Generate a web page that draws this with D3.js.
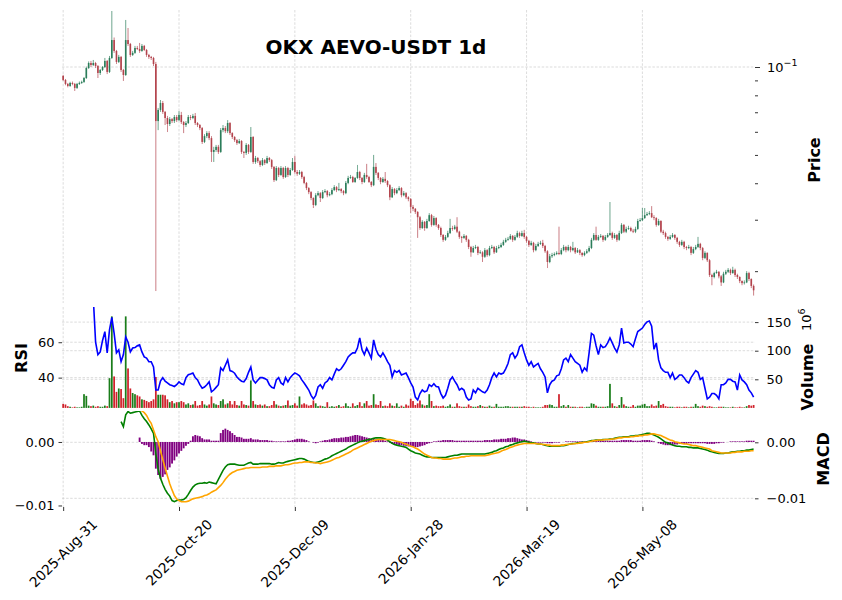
<!DOCTYPE html>
<html>
<head>
<meta charset="utf-8">
<script src="https://cdnjs.cloudflare.com/ajax/libs/d3/7.8.5/d3.min.js"></script>
<style>
    body { margin: 0; background: #fff; }
    svg { display: block; font-family: 'DejaVu Sans', sans-serif; }
    .gl { stroke: #c4c4c4; stroke-width: 0.6; stroke-dasharray: 2.5, 1.6; }
    .axis text { font-size: 13px; fill: #000; }
    .axis line { stroke: #000; stroke-width: 0.8; }
    .axis path { display: none; }
    .lab { font-weight: bold; font-size: 16px; }
</style>
</head>
<body>
<svg id="chart" width="842" height="600"></svg>
<script>
///////////// DATA
var title = 'OKX AEVO-USDT 1d';
var tickIdx = [0, 50, 100, 150, 200, 250];
var tickLabels = ['2025-Aug-31', '2025-Oct-20', '2025-Dec-09', '2026-Jan-28', '2026-Mar-19', '2026-May-08'];

var opens = [0.0932,0.0903,0.0875,0.0861,0.0882,0.0875,0.0848,0.0875,0.0882,0.0889,
0.0917,0.0992,0.1032,0.1016,0.1032,0.1008,0.0954,0.0977,0.1000,0.1049,
0.0962,0.1074,0.1237,0.1135,0.1041,0.1083,0.0977,0.0939,0.1237,0.1199,
0.1100,0.1118,0.1162,0.1153,0.1135,0.1181,0.1144,0.1100,0.1083,0.1074,
0.1024,0.0653,0.0713,0.0753,0.0702,0.0669,0.0638,0.0663,0.0653,0.0674,
0.0658,0.0685,0.0648,0.0633,0.0643,0.0674,0.0669,0.0680,0.0643,0.0633,
0.0618,0.0554,0.0580,0.0594,0.0571,0.0512,0.0520,0.0533,0.0512,0.0608,
0.0618,0.0603,0.0643,0.0594,0.0576,0.0562,0.0549,0.0558,0.0512,0.0508,
0.0541,0.0512,0.0576,0.0473,0.0488,0.0476,0.0462,0.0480,0.0469,0.0488,
0.0480,0.0455,0.0410,0.0451,0.0427,0.0451,0.0420,0.0451,0.0427,0.0444,
0.0473,0.0437,0.0431,0.0437,0.0420,0.0401,0.0385,0.0373,0.0356,0.0337,
0.0364,0.0370,0.0356,0.0373,0.0376,0.0364,0.0367,0.0379,0.0388,0.0379,
0.0382,0.0376,0.0370,0.0401,0.0417,0.0420,0.0404,0.0417,0.0437,0.0417,
0.0404,0.0427,0.0420,0.0404,0.0394,0.0455,0.0434,0.0417,0.0404,0.0414,
0.0407,0.0394,0.0358,0.0382,0.0370,0.0379,0.0385,0.0364,0.0370,0.0358,
0.0353,0.0332,0.0327,0.0319,0.0306,0.0281,0.0295,0.0281,0.0297,0.0311,
0.0288,0.0304,0.0288,0.0281,0.0266,0.0256,0.0262,0.0270,0.0281,0.0279,
0.0284,0.0273,0.0262,0.0260,0.0264,0.0256,0.0242,0.0232,0.0240,0.0242,
0.0231,0.0232,0.0224,0.0236,0.0227,0.0240,0.0242,0.0232,0.0240,0.0242,
0.0246,0.0252,0.0256,0.0258,0.0264,0.0256,0.0262,0.0270,0.0264,0.0270,
0.0262,0.0254,0.0246,0.0250,0.0236,0.0244,0.0248,0.0250,0.0244,0.0234,
0.0215,0.0225,0.0227,0.0229,0.0231,0.0229,0.0236,0.0242,0.0236,0.0242,
0.0236,0.0240,0.0232,0.0236,0.0231,0.0227,0.0231,0.0234,0.0240,0.0256,
0.0266,0.0256,0.0262,0.0264,0.0256,0.0262,0.0266,0.0270,0.0260,0.0266,
0.0256,0.0270,0.0288,0.0273,0.0279,0.0281,0.0275,0.0273,0.0279,0.0297,
0.0299,0.0304,0.0311,0.0314,0.0316,0.0306,0.0304,0.0288,0.0297,0.0273,
0.0270,0.0262,0.0258,0.0262,0.0266,0.0260,0.0252,0.0246,0.0252,0.0242,
0.0240,0.0242,0.0231,0.0238,0.0242,0.0248,0.0240,0.0222,0.0231,0.0218,
0.0194,0.0191,0.0197,0.0199,0.0192,0.0183,0.0196,0.0199,0.0202,0.0197,
0.0202,0.0194,0.0191,0.0185,0.0182,0.0183,0.0197,0.0188,0.0178];

var highs = [0.0940,0.0910,0.0882,0.0890,0.0892,0.0882,0.0882,0.0892,0.0898,0.0924,
0.1003,0.1045,0.1049,0.1057,0.1041,0.1016,0.0985,0.1008,0.1074,0.1057,
0.1091,0.1555,0.1262,0.1144,0.1100,0.1091,0.0985,0.1449,0.1360,0.1209,
0.1135,0.1181,0.1181,0.1209,0.1199,0.1190,0.1153,0.1109,0.1091,0.1083,
0.1041,0.0724,0.0771,0.0765,0.0707,0.0680,0.0674,0.0669,0.0685,0.0685,
0.0707,0.0702,0.0653,0.0653,0.0685,0.0685,0.0691,0.0696,0.0648,0.0638,
0.0623,0.0589,0.0603,0.0603,0.0580,0.0533,0.0541,0.0541,0.0618,0.0633,
0.0628,0.0658,0.0648,0.0598,0.0580,0.0567,0.0567,0.0562,0.0516,0.0549,
0.0545,0.0623,0.0580,0.0496,0.0492,0.0480,0.0488,0.0484,0.0496,0.0492,
0.0484,0.0458,0.0458,0.0455,0.0458,0.0455,0.0458,0.0455,0.0451,0.0488,
0.0496,0.0444,0.0444,0.0441,0.0424,0.0404,0.0388,0.0376,0.0358,0.0370,
0.0376,0.0373,0.0379,0.0382,0.0379,0.0373,0.0385,0.0394,0.0391,0.0401,
0.0385,0.0379,0.0407,0.0424,0.0427,0.0424,0.0420,0.0462,0.0441,0.0420,
0.0434,0.0466,0.0424,0.0407,0.0500,0.0469,0.0437,0.0420,0.0420,0.0437,
0.0410,0.0397,0.0388,0.0385,0.0385,0.0391,0.0388,0.0376,0.0373,0.0361,
0.0356,0.0337,0.0329,0.0321,0.0309,0.0299,0.0297,0.0302,0.0316,0.0314,
0.0309,0.0306,0.0290,0.0284,0.0268,0.0266,0.0275,0.0302,0.0286,0.0288,
0.0306,0.0275,0.0264,0.0268,0.0266,0.0258,0.0244,0.0244,0.0246,0.0244,
0.0236,0.0234,0.0240,0.0238,0.0244,0.0246,0.0244,0.0244,0.0246,0.0250,
0.0256,0.0260,0.0262,0.0268,0.0266,0.0266,0.0275,0.0273,0.0275,0.0277,
0.0264,0.0256,0.0254,0.0252,0.0248,0.0252,0.0254,0.0256,0.0246,0.0236,
0.0229,0.0231,0.0232,0.0234,0.0284,0.0240,0.0246,0.0244,0.0246,0.0244,
0.0252,0.0242,0.0240,0.0238,0.0232,0.0234,0.0238,0.0244,0.0260,0.0270,
0.0284,0.0266,0.0268,0.0266,0.0266,0.0270,0.0345,0.0273,0.0270,0.0268,
0.0275,0.0292,0.0290,0.0284,0.0286,0.0284,0.0279,0.0284,0.0302,0.0304,
0.0329,0.0329,0.0319,0.0321,0.0334,0.0311,0.0306,0.0302,0.0299,0.0277,
0.0273,0.0264,0.0266,0.0270,0.0268,0.0262,0.0254,0.0256,0.0254,0.0244,
0.0246,0.0244,0.0242,0.0246,0.0262,0.0250,0.0242,0.0234,0.0232,0.0220,
0.0196,0.0199,0.0202,0.0200,0.0194,0.0199,0.0202,0.0205,0.0204,0.0207,
0.0204,0.0196,0.0192,0.0186,0.0186,0.0200,0.0199,0.0189,0.0180];

var lows = [0.0896,0.0866,0.0852,0.0855,0.0866,0.0828,0.0841,0.0868,0.0875,0.0882,
0.0910,0.0985,0.1000,0.1008,0.0992,0.0917,0.0939,0.0969,0.0992,0.0946,
0.0954,0.1066,0.1118,0.1024,0.1032,0.0962,0.0896,0.0932,0.1181,0.1083,
0.1091,0.1109,0.1144,0.1118,0.1127,0.1135,0.1083,0.1066,0.1057,0.1008,
0.0171,0.0608,0.0702,0.0691,0.0633,0.0599,0.0628,0.0643,0.0643,0.0648,
0.0653,0.0638,0.0594,0.0623,0.0638,0.0658,0.0663,0.0633,0.0623,0.0608,
0.0545,0.0549,0.0571,0.0562,0.0473,0.0473,0.0512,0.0504,0.0508,0.0598,
0.0594,0.0594,0.0585,0.0567,0.0554,0.0541,0.0545,0.0504,0.0488,0.0500,
0.0504,0.0508,0.0466,0.0466,0.0469,0.0455,0.0458,0.0462,0.0466,0.0473,
0.0448,0.0404,0.0407,0.0420,0.0424,0.0414,0.0417,0.0420,0.0424,0.0441,
0.0431,0.0424,0.0427,0.0414,0.0397,0.0379,0.0367,0.0350,0.0329,0.0334,
0.0361,0.0345,0.0353,0.0370,0.0358,0.0361,0.0364,0.0376,0.0373,0.0376,
0.0370,0.0364,0.0367,0.0397,0.0414,0.0401,0.0401,0.0414,0.0410,0.0397,
0.0401,0.0414,0.0401,0.0388,0.0391,0.0427,0.0410,0.0397,0.0401,0.0401,
0.0388,0.0350,0.0356,0.0364,0.0367,0.0376,0.0358,0.0361,0.0353,0.0347,
0.0316,0.0321,0.0314,0.0260,0.0277,0.0279,0.0275,0.0279,0.0295,0.0284,
0.0286,0.0284,0.0277,0.0262,0.0252,0.0254,0.0260,0.0268,0.0275,0.0277,
0.0270,0.0258,0.0250,0.0258,0.0252,0.0238,0.0224,0.0231,0.0238,0.0227,
0.0229,0.0215,0.0222,0.0224,0.0225,0.0238,0.0229,0.0231,0.0238,0.0240,
0.0244,0.0250,0.0254,0.0256,0.0252,0.0254,0.0260,0.0260,0.0262,0.0258,
0.0250,0.0242,0.0244,0.0232,0.0234,0.0242,0.0246,0.0240,0.0231,0.0205,
0.0213,0.0222,0.0225,0.0227,0.0227,0.0227,0.0234,0.0232,0.0234,0.0232,
0.0234,0.0229,0.0231,0.0227,0.0224,0.0225,0.0229,0.0232,0.0238,0.0254,
0.0254,0.0254,0.0260,0.0252,0.0254,0.0260,0.0264,0.0256,0.0258,0.0252,
0.0254,0.0268,0.0270,0.0270,0.0277,0.0273,0.0270,0.0270,0.0277,0.0295,
0.0297,0.0302,0.0309,0.0311,0.0304,0.0299,0.0284,0.0286,0.0270,0.0266,
0.0258,0.0254,0.0256,0.0260,0.0256,0.0248,0.0242,0.0244,0.0238,0.0236,
0.0238,0.0227,0.0229,0.0236,0.0240,0.0236,0.0218,0.0220,0.0215,0.0191,
0.0179,0.0189,0.0196,0.0189,0.0178,0.0182,0.0194,0.0197,0.0194,0.0196,
0.0191,0.0188,0.0182,0.0179,0.0180,0.0182,0.0185,0.0175,0.0165];

var closes = [0.0903,0.0875,0.0861,0.0882,0.0875,0.0848,0.0875,0.0882,0.0889,0.0917,
0.0992,0.1032,0.1016,0.1032,0.1008,0.0954,0.0977,0.1000,0.1049,0.0962,
0.1074,0.1237,0.1135,0.1041,0.1083,0.0977,0.0939,0.1237,0.1199,0.1100,
0.1118,0.1162,0.1153,0.1135,0.1181,0.1144,0.1100,0.1083,0.1074,0.1024,
0.0653,0.0713,0.0753,0.0702,0.0669,0.0638,0.0663,0.0653,0.0674,0.0658,
0.0685,0.0648,0.0633,0.0643,0.0674,0.0669,0.0680,0.0643,0.0633,0.0618,
0.0554,0.0580,0.0594,0.0571,0.0512,0.0520,0.0533,0.0512,0.0608,0.0618,
0.0603,0.0643,0.0594,0.0576,0.0562,0.0549,0.0558,0.0512,0.0508,0.0541,
0.0512,0.0576,0.0473,0.0488,0.0476,0.0462,0.0480,0.0469,0.0488,0.0480,
0.0455,0.0410,0.0451,0.0427,0.0451,0.0420,0.0451,0.0427,0.0444,0.0473,
0.0437,0.0431,0.0437,0.0420,0.0401,0.0385,0.0373,0.0356,0.0337,0.0364,
0.0370,0.0356,0.0373,0.0376,0.0364,0.0367,0.0379,0.0388,0.0379,0.0382,
0.0376,0.0370,0.0401,0.0417,0.0420,0.0404,0.0417,0.0437,0.0417,0.0404,
0.0427,0.0420,0.0404,0.0394,0.0455,0.0434,0.0417,0.0404,0.0414,0.0407,
0.0394,0.0358,0.0382,0.0370,0.0379,0.0385,0.0364,0.0370,0.0358,0.0353,
0.0332,0.0327,0.0319,0.0306,0.0281,0.0295,0.0281,0.0297,0.0311,0.0288,
0.0304,0.0288,0.0281,0.0266,0.0256,0.0262,0.0270,0.0281,0.0279,0.0284,
0.0273,0.0262,0.0260,0.0264,0.0256,0.0242,0.0232,0.0240,0.0242,0.0231,
0.0232,0.0224,0.0236,0.0227,0.0240,0.0242,0.0232,0.0240,0.0242,0.0246,
0.0252,0.0256,0.0258,0.0264,0.0256,0.0262,0.0270,0.0264,0.0270,0.0262,
0.0254,0.0246,0.0250,0.0236,0.0244,0.0248,0.0250,0.0244,0.0234,0.0215,
0.0225,0.0227,0.0229,0.0231,0.0229,0.0236,0.0242,0.0236,0.0242,0.0236,
0.0240,0.0232,0.0236,0.0231,0.0227,0.0231,0.0234,0.0240,0.0256,0.0266,
0.0256,0.0262,0.0264,0.0256,0.0262,0.0266,0.0270,0.0260,0.0266,0.0256,
0.0270,0.0288,0.0273,0.0279,0.0281,0.0275,0.0273,0.0279,0.0297,0.0299,
0.0304,0.0311,0.0314,0.0316,0.0306,0.0304,0.0288,0.0297,0.0273,0.0270,
0.0262,0.0258,0.0262,0.0266,0.0260,0.0252,0.0246,0.0252,0.0242,0.0240,
0.0242,0.0231,0.0238,0.0242,0.0248,0.0240,0.0222,0.0231,0.0218,0.0194,
0.0191,0.0197,0.0199,0.0192,0.0183,0.0196,0.0199,0.0202,0.0197,0.0202,
0.0194,0.0191,0.0185,0.0182,0.0183,0.0197,0.0188,0.0178,0.0172];

// volume, in millions
var volumeM = [7,6,3,2,1,2,1,1,2,24,
21,4,3,4,2,3,2,2,4,3,
52,160,55,28,34,33,17,160,69,34,
26,24,22,20,15,14,12,10,12,15,
54,23,23,23,22,15,10,12,8,10,
10,12,10,6,8,5,6,12,4,5,
12,6,4,6,20,8,6,5,12,15,
6,8,12,6,12,5,4,12,6,5,
4,48,12,6,5,6,4,6,3,3,
5,12,6,4,3,4,5,13,4,5,
8,4,20,6,8,6,4,5,13,8,
3,4,3,2,10,2,3,2,3,5,
2,3,8,3,2,8,3,5,10,3,
8,12,4,5,24,6,5,12,3,4,
3,8,4,3,8,2,4,2,6,4,
16,12,5,8,13,6,4,5,24,12,
3,4,3,3,4,2,3,6,2,2,
8,3,2,2,2,6,3,2,2,3,
5,3,2,2,4,2,2,7,2,2,
2,3,3,2,2,2,2,2,2,3,
2,2,1,2,1,1,1,2,5,5,
6,5,2,2,24,3,5,2,5,2,
2,2,1,2,2,1,2,2,8,7,
4,2,2,2,2,3,42,8,3,2,
5,19,6,3,2,2,5,2,4,4,
6,7,3,3,6,3,4,12,5,7,
3,2,2,2,1,2,2,1,2,2,
1,2,2,7,3,2,4,3,2,3,
2,1,1,2,2,2,1,1,1,2,
1,1,2,1,1,3,5,4,5];

// RSI, first value belongs to candle 13
var rsiStart = 13;
var rsi = [85,60,53,54.5,61,66,54,
67,74,65,54,55.7,49,53,63,60,54.5,
56.7,57,58,58.5,54.5,51.7,51,49,49,46,
33,33,38,40,38,37,36,35.5,35,36,
37.6,36.5,36,40,41.6,42,42.6,40,38.7,36,
34,34.7,36,37.6,32,33,34.5,36,45.5,44,
47,50,44,43.5,42.5,40.4,39,38,37.6,39.5,
43,46,38.7,37,38.5,40,40,39.5,38.7,36,
34.5,34,38.7,40,37,36,40,37.6,40,41.5,
42.6,42,41,38.7,37,35,33,30,28,30,
34.7,36,34,37,38,40,38.7,42,45,44,
45,47,49,51.7,53,54,54,56.7,62.4,55.7,
53,56.7,54,51,61.3,56,53,51.7,54,51.7,
49,47,40.4,44,43,44,41.5,42,42.6,40,
37,34.7,29,27.4,31,33,32,32.5,36,35,
36.5,35,34.7,31,28.5,30,34,38.7,40.4,38,
36,33,34,33,29,27.4,28,33,31.4,34,
33,32,31.4,33,36,40,42.6,40.4,42.6,42,
42.6,45,48,53,54,51,53,57.5,58.5,54,
50,47,49,46,47,48,45,43,40.4,31.4,
36,38,38.7,41,41.5,45,50,51,49,53,
51,49,48,47,43,45.5,44,54,65,64,
58,53,58.5,57,57.5,59.6,62.4,59.6,56.7,54.5,
58.5,68,59.6,60,60,59,57.5,62,66,67,
68,70,71.5,72,69,56,59.6,50,45.5,44,
43,43,40,42.6,39,40,41.5,41.5,40,38,
37,40,42,44,43,39,40,34,28,29,
31,31,30,28,36,36,37,39,39,38,
37.6,33,41.5,38.7,37.6,36,33,31.4,29];

// MACD line, first value belongs to candle 25
var macdStart = 25;
var macd = [0.0037,0.0028,0.0049,0.0055,0.0052,
0.0053,0.0054,0.0055,0.0056,0.0048,0.0042,0.0037,0.0031,0.0024,0.0016,
-0.0020,-0.0048,-0.0064,-0.0075,-0.0084,-0.0091,-0.0096,-0.0104,-0.0106,-0.0104,
-0.0103,-0.0103,-0.0102,-0.0099,-0.0093,-0.0086,-0.0080,-0.0076,-0.0074,-0.0073,
-0.0073,-0.0072,-0.0073,-0.0071,-0.0072,-0.0073,-0.0074,-0.0066,-0.0058,-0.0050,
-0.0044,-0.0040,-0.0039,-0.0039,-0.0039,-0.0040,-0.0041,-0.0041,-0.0041,-0.0039,
-0.0037,-0.0036,-0.0039,-0.0039,-0.0039,-0.0038,-0.0038,-0.0038,-0.0038,-0.0038,
-0.0039,-0.0039,-0.0038,-0.0036,-0.0037,-0.0037,-0.0035,-0.0034,-0.0033,-0.0032,
-0.0031,-0.0030,-0.0029,-0.0029,-0.0030,-0.0032,-0.0034,-0.0035,-0.0036,-0.0036,
-0.0035,-0.0034,-0.0032,-0.0030,-0.0029,-0.0027,-0.0024,-0.0022,-0.0020,-0.0018,
-0.0016,-0.0014,-0.0012,-0.0009,-0.0007,-0.0005,-0.0003,-0.0001,0.0001,0.0002,
0.0003,0.0004,0.0005,0.0006,0.0007,0.0008,0.0008,0.0008,0.0007,0.0006,
0.0004,0.0001,-0.0002,-0.0004,-0.0005,-0.0006,-0.0007,-0.0008,-0.0009,-0.0012,
-0.0015,-0.0017,-0.0019,-0.0020,-0.0021,-0.0023,-0.0025,-0.0026,-0.0026,-0.0027,
-0.0027,-0.0027,-0.0027,-0.0027,-0.0027,-0.0027,-0.0026,-0.0025,-0.0024,-0.0023,
-0.0023,-0.0022,-0.0021,-0.0021,-0.0021,-0.0021,-0.0021,-0.0021,-0.0021,-0.0021,
-0.0021,-0.0021,-0.0021,-0.0020,-0.0019,-0.0018,-0.0016,-0.0015,-0.0013,-0.0011,
-0.0010,-0.0008,-0.0007,-0.0005,-0.0004,-0.0002,-0.0001,0.0000,0.0001,0.0002,
0.0001,0.0000,-0.0001,-0.0001,-0.0002,-0.0003,-0.0003,-0.0004,-0.0005,-0.0006,
-0.0007,-0.0007,-0.0007,-0.0007,-0.0007,-0.0006,-0.0006,-0.0005,-0.0004,-0.0003,
-0.0002,-0.0002,-0.0001,-0.0001,0.0000,0.0000,0.0001,0.0002,0.0003,0.0003,
0.0004,0.0004,0.0004,0.0005,0.0005,0.0005,0.0006,0.0006,0.0007,0.0008,
0.0009,0.0009,0.0010,0.0010,0.0010,0.0011,0.0011,0.0012,0.0012,0.0013,
0.0014,0.0015,0.0016,0.0016,0.0015,0.0013,0.0011,0.0009,0.0006,0.0003,
0.0000,-0.0001,-0.0003,-0.0005,-0.0006,-0.0007,-0.0007,-0.0008,-0.0008,-0.0008,
-0.0009,-0.0009,-0.0010,-0.0010,-0.0010,-0.0011,-0.0012,-0.0013,-0.0014,-0.0016,
-0.0017,-0.0018,-0.0019,-0.0020,-0.0020,-0.0020,-0.0019,-0.0019,-0.0018,-0.0017,
-0.0017,-0.0016,-0.0016,-0.0015,-0.0015,-0.0014,-0.0014,-0.0013,-0.0012];

// signal line and histogram, first value belongs to candle 33
var signalStart = 33;
var signal = [0.0058,0.0056,0.0053,0.0048,0.0040,0.0034,0.0022,
0.0010,0.0001,-0.0015,-0.0031,-0.0046,-0.0060,-0.0074,-0.0085,-0.0095,-0.0101,
-0.0104,-0.0106,-0.0106,-0.0106,-0.0105,-0.0103,-0.0101,-0.0100,-0.0099,-0.0098,
-0.0097,-0.0095,-0.0094,-0.0092,-0.0089,-0.0087,-0.0085,-0.0081,-0.0077,-0.0072,
-0.0066,-0.0061,-0.0057,-0.0054,-0.0052,-0.0050,-0.0049,-0.0048,-0.0047,-0.0046,
-0.0046,-0.0045,-0.0045,-0.0045,-0.0045,-0.0045,-0.0044,-0.0044,-0.0044,-0.0043,
-0.0043,-0.0043,-0.0042,-0.0042,-0.0042,-0.0041,-0.0040,-0.0040,-0.0039,-0.0038,
-0.0037,-0.0037,-0.0036,-0.0036,-0.0035,-0.0035,-0.0035,-0.0036,-0.0036,-0.0037,
-0.0037,-0.0038,-0.0037,-0.0036,-0.0035,-0.0034,-0.0032,-0.0030,-0.0028,-0.0027,
-0.0025,-0.0023,-0.0021,-0.0019,-0.0017,-0.0014,-0.0012,-0.0010,-0.0008,-0.0006,
-0.0004,-0.0002,0.0000,0.0002,0.0003,0.0004,0.0005,0.0005,0.0005,0.0005,
0.0005,0.0005,0.0004,0.0003,0.0002,0.0001,0.0000,-0.0002,-0.0003,-0.0005,
-0.0007,-0.0008,-0.0010,-0.0012,-0.0015,-0.0018,-0.0021,-0.0023,-0.0025,-0.0027,
-0.0028,-0.0028,-0.0029,-0.0029,-0.0030,-0.0030,-0.0030,-0.0030,-0.0029,-0.0028,
-0.0028,-0.0027,-0.0026,-0.0026,-0.0025,-0.0025,-0.0024,-0.0024,-0.0024,-0.0024,
-0.0024,-0.0024,-0.0024,-0.0023,-0.0022,-0.0021,-0.0020,-0.0019,-0.0018,-0.0016,
-0.0014,-0.0013,-0.0011,-0.0009,-0.0008,-0.0006,-0.0005,-0.0004,-0.0003,-0.0002,
-0.0002,-0.0002,-0.0002,-0.0002,-0.0002,-0.0003,-0.0003,-0.0004,-0.0004,-0.0005,
-0.0005,-0.0006,-0.0006,-0.0006,-0.0006,-0.0005,-0.0005,-0.0004,-0.0004,-0.0003,
-0.0003,-0.0002,-0.0002,-0.0001,-0.0001,0.0000,0.0000,0.0001,0.0002,0.0003,
0.0003,0.0004,0.0004,0.0004,0.0005,0.0005,0.0005,0.0006,0.0006,0.0007,
0.0008,0.0008,0.0009,0.0009,0.0009,0.0010,0.0010,0.0011,0.0011,0.0012,
0.0012,0.0013,0.0013,0.0014,0.0015,0.0015,0.0014,0.0013,0.0012,0.0010,
0.0008,0.0006,0.0004,0.0003,0.0001,0.0000,-0.0001,-0.0002,-0.0003,-0.0003,
-0.0004,-0.0005,-0.0006,-0.0006,-0.0007,-0.0008,-0.0009,-0.0010,-0.0011,-0.0012,
-0.0015,-0.0016,-0.0017,-0.0018,-0.0019,-0.0019,-0.0019,-0.0019,-0.0019,-0.0018,
-0.0018,-0.0017,-0.0017,-0.0017,-0.0016,-0.0016,-0.0016,-0.0015,-0.0015];

var hist = [0.0007,-0.0003,-0.0005,-0.0005,-0.0008,-0.0015,-0.0021,
-0.0042,-0.0052,-0.0058,-0.0055,-0.0051,-0.0044,-0.0040,-0.0034,-0.0029,-0.0023,
-0.0018,-0.0014,-0.0010,-0.0006,-0.0003,0.0002,0.0009,0.0011,0.0010,0.0009,
0.0006,0.0004,0.0004,0.0004,0.0002,0.0002,0.0002,0.0002,0.0014,0.0019,
0.0021,0.0019,0.0017,0.0014,0.0011,0.0008,0.0008,0.0007,0.0005,0.0005,
0.0005,0.0006,0.0004,0.0004,0.0004,0.0003,0.0003,0.0003,0.0003,0.0002,
0.0002,0.0001,0.0001,0.0001,0.0001,0.0001,0.0001,0.0002,0.0002,0.0003,
0.0004,0.0005,0.0005,0.0005,0.0004,0.0003,0.0001,0.0000,-0.0001,-0.0002,
-0.0001,0.0001,0.0002,0.0003,0.0003,0.0004,0.0005,0.0006,0.0006,0.0006,
0.0007,0.0007,0.0008,0.0008,0.0009,0.0010,0.0011,0.0011,0.0010,0.0009,
0.0008,0.0007,0.0006,0.0005,0.0005,0.0004,0.0003,0.0003,0.0003,0.0002,
0.0001,-0.0001,-0.0003,-0.0004,-0.0004,-0.0005,-0.0005,-0.0006,-0.0006,-0.0007,
-0.0007,-0.0008,-0.0008,-0.0008,-0.0007,-0.0006,-0.0005,-0.0003,-0.0002,-0.0001,
0.0001,0.0001,0.0002,0.0002,0.0003,0.0003,0.0003,0.0003,0.0003,0.0002,
0.0002,0.0002,0.0002,0.0002,0.0002,0.0002,0.0002,0.0002,0.0002,0.0002,
0.0002,0.0002,0.0003,0.0003,0.0003,0.0003,0.0004,0.0004,0.0004,0.0005,
0.0005,0.0005,0.0006,0.0006,0.0007,0.0007,0.0006,0.0005,0.0004,0.0004,
0.0003,0.0002,0.0001,0.0000,-0.0001,-0.0001,-0.0001,-0.0001,-0.0001,-0.0002,
-0.0002,-0.0002,-0.0001,-0.0001,-0.0001,0.0000,0.0000,0.0001,0.0001,0.0001,
0.0001,0.0001,0.0001,0.0001,0.0001,0.0001,0.0001,0.0001,0.0002,0.0002,
0.0002,0.0002,0.0002,0.0002,0.0002,0.0002,0.0002,0.0002,0.0002,0.0002,
0.0002,0.0003,0.0003,0.0003,0.0003,0.0003,0.0002,0.0002,0.0002,0.0002,
0.0003,0.0003,0.0003,0.0003,0.0002,0.0001,0.0000,-0.0002,-0.0003,-0.0004,
-0.0005,-0.0005,-0.0005,-0.0005,-0.0004,-0.0004,-0.0003,-0.0003,-0.0003,-0.0003,
-0.0002,-0.0002,-0.0002,-0.0002,-0.0002,-0.0002,-0.0002,-0.0002,-0.0003,-0.0003,
-0.0003,-0.0003,-0.0002,-0.0002,-0.0001,-0.0001,0.0000,0.0000,0.0001,0.0001,
0.0001,0.0001,0.0001,0.0001,0.0001,0.0002,0.0002,0.0002,0.0002];

var priceMajor = [0.1];
var priceMinor = [0.02, 0.03, 0.04, 0.05, 0.06, 0.07, 0.08, 0.09];
var rsiTicks = [40, 60];
var volTicks = [50, 100, 150];
var macdTicks = [-0.01, 0];

///////////// LAYOUT
var upColor = '#2b7d5a';
var downColor = '#b3434c';
var volUp = '#1a7d1a';
var volDown = '#d0212a';

var svg = d3.select('#chart');
var left = 62, right = 755;
var main = { top: 10, bottom: 303 };
var low = { top: 307, bottom: 408 };
var mac = { top: 411, bottom: 507 };

var n = closes.length;
var x = d3.scaleLinear().domain([-0.5, n - 0.4]).range([left, right]);
var step = x(1) - x(0);

var yPrice = d3.scaleLog().domain([0.01556, 0.15675]).range([main.bottom, main.top]);
var yVol = d3.scaleLinear().domain([0, 176.4]).range([407.9, low.top]);
var yRsi = d3.scaleLinear().domain([22.9, 79.9]).range([407.9, low.top]);
var yMacd = d3.scaleLinear().domain([-0.01155, 0.00559]).range([mac.bottom, mac.top]);
var yHist = d3.scaleLinear().domain([-0.01024, 0.00488]).range([mac.bottom, mac.top]);

var defs = svg.append('defs');
[['clipLow', low], ['clipMac', mac], ['clipMain', main]].forEach(function(c) {
    defs.append('clipPath').attr('id', c[0]).append('rect')
        .attr('x', left).attr('y', c[1].top)
        .attr('width', right - left).attr('height', c[1].bottom - c[1].top);
});

///////////// GRID
var grid = svg.append('g');
[main, low, mac].forEach(function(p) {
    grid.selectAll(null).data(tickIdx).enter().append('line')
        .attr('class', 'gl')
        .attr('x1', function(d) { return x(d); }).attr('x2', function(d) { return x(d); })
        .attr('y1', p.top).attr('y2', p.bottom);
});
function hGrid(vals, scale) {
    grid.selectAll(null).data(vals).enter().append('line')
        .attr('class', 'gl')
        .attr('x1', left).attr('x2', right)
        .attr('y1', function(d) { return scale(d); }).attr('y2', function(d) { return scale(d); });
}
hGrid(priceMajor, yPrice);
hGrid(volTicks, yVol);
hGrid(rsiTicks, yRsi);
hGrid(macdTicks, yMacd);

///////////// CANDLES
var candles = d3.range(n).map(function(i) {
    return { i: i, o: opens[i], h: highs[i], l: lows[i], c: closes[i], v: volumeM[i] };
});
var cg = svg.append('g').attr('clip-path', 'url(#clipMain)');
cg.selectAll('line.wick').data(candles).enter().append('line')
    .attr('class', 'wick')
    .attr('x1', function(d) { return x(d.i); }).attr('x2', function(d) { return x(d.i); })
    .attr('y1', function(d) { return yPrice(d.h); }).attr('y2', function(d) { return yPrice(d.l); })
    .attr('stroke', function(d) { return d.c >= d.o ? upColor : downColor; })
    .attr('stroke-width', 0.8)
    .attr('opacity', 0.85);
var bw = step * 0.7;
cg.selectAll('rect.body').data(candles).enter().append('rect')
    .attr('class', 'body')
    .attr('x', function(d) { return x(d.i) - bw / 2; })
    .attr('width', bw)
    .attr('y', function(d) { return yPrice(Math.max(d.o, d.c)); })
    .attr('height', function(d) { return Math.max(0.7, Math.abs(yPrice(d.o) - yPrice(d.c))); })
    .attr('fill', function(d) { return d.c >= d.o ? upColor : downColor; });

///////////// VOLUME + RSI
var vw = step * 0.75;
svg.append('g').attr('clip-path', 'url(#clipLow)')
    .selectAll('rect').data(candles).enter().append('rect')
    .attr('x', function(d) { return x(d.i) - vw / 2; })
    .attr('width', vw)
    .attr('y', function(d) { return yVol(d.v); })
    .attr('height', function(d) { return yVol(0) - yVol(d.v); })
    .attr('fill', function(d) { return d.c >= d.o ? volUp : volDown; });

var rsiPts = rsi.map(function(v, j) { return [rsiStart + j, v]; });
svg.append('path').datum(rsiPts)
    .attr('clip-path', 'url(#clipLow)')
    .attr('fill', 'none').attr('stroke', '#0000ff').attr('stroke-width', 1.6)
    .attr('d', d3.line().x(function(d) { return x(d[0]); }).y(function(d) { return yRsi(d[1]); }));

///////////// MACD
var histPts = hist.map(function(v, j) { return [signalStart + j, v]; });
var hw = step * 0.8;
svg.append('g').attr('clip-path', 'url(#clipMac)')
    .selectAll('rect').data(histPts).enter().append('rect')
    .attr('x', function(d) { return x(d[0]) - hw / 2; })
    .attr('width', hw)
    .attr('y', function(d) { return Math.min(yHist(d[1]), yHist(0)); })
    .attr('height', function(d) { return Math.abs(yHist(d[1]) - yHist(0)); })
    .attr('fill', '#800080');

var macdLine = d3.line().x(function(d) { return x(d[0]); }).y(function(d) { return yMacd(d[1]); });
svg.append('path').datum(macd.map(function(v, j) { return [macdStart + j, v]; }))
    .attr('clip-path', 'url(#clipMac)')
    .attr('fill', 'none').attr('stroke', '#008000').attr('stroke-width', 1.6)
    .attr('d', macdLine);
svg.append('path').datum(signal.map(function(v, j) { return [signalStart + j, v]; }))
    .attr('clip-path', 'url(#clipMac)')
    .attr('fill', 'none').attr('stroke', '#ffa500').attr('stroke-width', 1.6)
    .attr('d', macdLine);

///////////// AXES
function styleAxis(g) {
    g.attr('class', 'axis');
    g.selectAll('text').attr('font-family', "'DejaVu Sans', sans-serif");
    return g;
}

// price axis (log)
svg.append('g').attr('transform', 'translate(' + right + ',0)')
    .call(d3.axisRight(yPrice).tickValues(priceMajor).tickSize(5).tickFormat(''))
    .call(styleAxis);
svg.append('g').attr('transform', 'translate(' + right + ',0)')
    .call(d3.axisRight(yPrice).tickValues(priceMinor).tickSize(3).tickFormat(''))
    .call(styleAxis);
var pl = svg.append('text').attr('x', right + 12).attr('y', yPrice(0.1) + 5)
    .attr('font-size', 13);
pl.append('tspan').text('10');
pl.append('tspan').attr('dy', -6).attr('font-size', 9.5).text('\u22121');

// rsi left, volume right
svg.append('g').attr('transform', 'translate(' + left + ',0)')
    .call(d3.axisLeft(yRsi).tickValues(rsiTicks).tickSize(3.5).tickPadding(4).tickFormat(d3.format('d')))
    .call(styleAxis);
svg.append('g').attr('transform', 'translate(' + right + ',0)')
    .call(d3.axisRight(yVol).tickValues(volTicks).tickSize(3.5).tickPadding(8).tickFormat(d3.format('d')))
    .call(styleAxis);

// macd: histogram scale left, lines scale right
svg.append('g').attr('transform', 'translate(' + left + ',0)')
    .call(d3.axisLeft(yHist).tickValues(macdTicks).tickSize(3.5).tickPadding(4).tickFormat(d3.format('.2f')))
    .call(styleAxis);
svg.append('g').attr('transform', 'translate(' + right + ',0)')
    .call(d3.axisRight(yMacd).tickValues(macdTicks).tickSize(3.5).tickPadding(8).tickFormat(d3.format('.2f')))
    .call(styleAxis);

// date axis
svg.append('g').attr('transform', 'translate(0,' + mac.bottom + ')')
    .call(d3.axisBottom(x).tickValues(tickIdx).tickSize(4).tickFormat(''))
    .call(styleAxis);
tickIdx.forEach(function(t, k) {
    var g = svg.append('g');
    g.append('text').attr('font-size', 13.8).attr('text-anchor', 'end')
        .attr('transform', 'rotate(-45)').text(tickLabels[k]);
    var bb = g.node().getBBox();
    g.attr('transform', 'translate(' + (x(t) - bb.x - bb.width / 2) + ',' + (516 - bb.y) + ')');
});

///////////// LABELS
svg.append('text').attr('x', 376).attr('y', 54).attr('text-anchor', 'middle')
    .attr('font-weight', 'bold').attr('font-size', 20).text(title);

function vLabel(txt, cx, cy) {
    svg.append('text').attr('class', 'lab').attr('text-anchor', 'middle')
        .attr('transform', 'translate(' + cx + ',' + cy + ') rotate(-90)').text(txt);
}
vLabel('Price', 820, 160);
vLabel('RSI', 27, 358);
vLabel('Volume', 813, 377);
vLabel('MACD', 829, 459);

var off = svg.append('text').attr('font-size', 13)
    .attr('transform', 'translate(811,331) rotate(-90)');
off.append('tspan').text('10');
off.append('tspan').attr('dy', -6).attr('font-size', 9.5).text('6');
</script>
</body>
</html>
